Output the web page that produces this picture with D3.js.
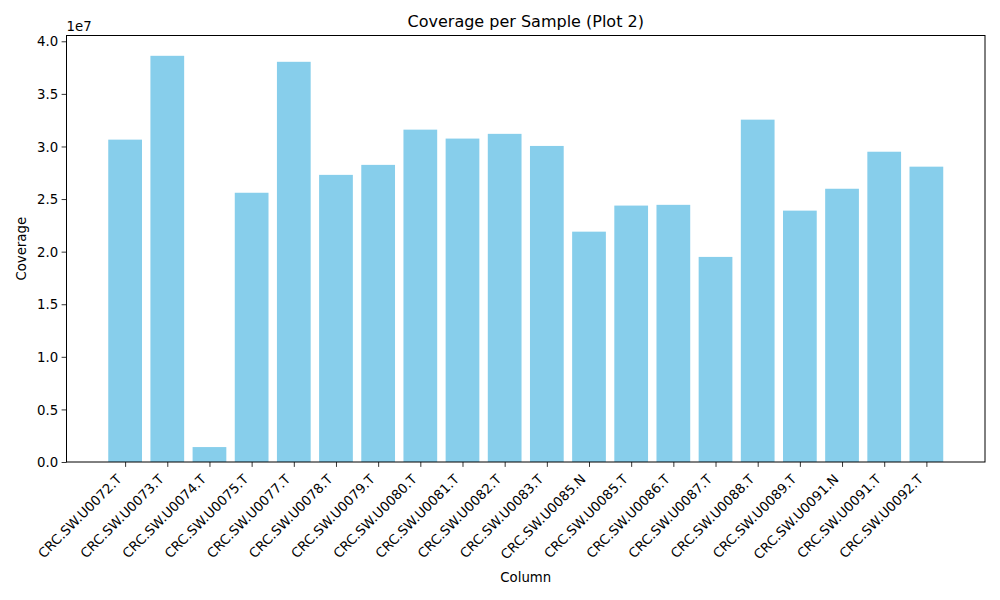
<!DOCTYPE html>
<html>
<head>
<meta charset="utf-8">
<title>Coverage per Sample (Plot 2)</title>
<script src="https://cdn.jsdelivr.net/npm/d3@7"></script>
<style>
  body { margin: 0; background: #fff; }
  text { font-family: "DejaVu Sans", sans-serif; fill: #000; }
</style>
</head>
<body>
<div id="chart"></div>
<script>
// sample names and coverage values
var samples = ["CRC.SW.U0072.T", "CRC.SW.U0073.T", "CRC.SW.U0074.T", "CRC.SW.U0075.T",
  "CRC.SW.U0077.T", "CRC.SW.U0078.T", "CRC.SW.U0079.T", "CRC.SW.U0080.T",
  "CRC.SW.U0081.T", "CRC.SW.U0082.T", "CRC.SW.U0083.T", "CRC.SW.U0085.N",
  "CRC.SW.U0085.T", "CRC.SW.U0086.T", "CRC.SW.U0087.T", "CRC.SW.U0088.T",
  "CRC.SW.U0089.T", "CRC.SW.U0091.N", "CRC.SW.U0091.T", "CRC.SW.U0092.T"];
var coverage = [30.65e6, 38.62e6, 1.42e6, 25.6e6, 38.05e6, 27.3e6, 28.25e6, 31.6e6,
  30.75e6, 31.2e6, 30.05e6, 21.9e6, 24.38e6, 24.45e6, 19.5e6, 32.55e6,
  23.9e6, 25.98e6, 29.5e6, 28.08e6];
var yTicks = [0, 0.5e7, 1.0e7, 1.5e7, 2.0e7, 2.5e7, 3.0e7, 3.5e7, 4.0e7];

var W = 1000, H = 600;
var m = { left: 66.5, right: 15, top: 35.5, bottom: 138 };
var iw = W - m.left - m.right, ih = H - m.top - m.bottom;

var svg = d3.select("#chart").append("svg")
  .attr("width", W).attr("height", H);

var n = samples.length;
var pad = 0.05 * (n - 1 + 0.8);
var x = d3.scaleLinear().domain([-0.4 - pad, n - 1 + 0.4 + pad]).range([0, iw]);
var yMax = d3.max(coverage) * 1.05;
var y = d3.scaleLinear().domain([0, yMax]).range([ih, 0]);

var g = svg.append("g").attr("transform", "translate(" + m.left + "," + m.top + ")");

g.selectAll("rect.bar").data(coverage).enter().append("rect")
  .attr("class", "bar")
  .attr("x", function(d, i) { return x(i - 0.4); })
  .attr("width", function(d, i) { return x(i + 0.4) - x(i - 0.4); })
  .attr("y", function(d) { return y(d); })
  .attr("height", function(d) { return ih - y(d); })
  .attr("fill", "#87ceeb");

// y axis
var yAxis = g.append("g")
  .call(d3.axisLeft(y).tickValues(yTicks).tickSize(4.9).tickPadding(3.5)
    .tickFormat(function(d) { return (d / 1e7).toFixed(1); }));
yAxis.select(".domain").remove();
yAxis.selectAll("text").style("font-size", "13.3px").attr("dy", "0.35em");
yAxis.selectAll("line").attr("stroke", "#000").attr("stroke-width", 0.8);

// x axis
var xAxis = g.append("g").attr("transform", "translate(0," + ih + ")")
  .call(d3.axisBottom(x).tickValues(d3.range(n)).tickSize(4.9)
    .tickFormat(function(i) { return samples[i]; }));
xAxis.select(".domain").remove();
xAxis.selectAll("line").attr("stroke", "#000").attr("stroke-width", 0.8);
xAxis.selectAll("text")
  .style("font-size", "13.3px")
  .attr("text-anchor", "end")
  .attr("dy", "0")
  .attr("y", 0)
  .attr("transform", "translate(-3,18) rotate(-45)");

// frame
g.append("rect").attr("width", iw).attr("height", ih)
  .attr("fill", "none").attr("stroke", "#000").attr("stroke-width", 1);

// offset text
g.append("text").attr("x", 0).attr("y", -5)
  .style("font-size", "13.3px").text("1e7");

// labels
svg.append("text").attr("x", m.left + iw / 2).attr("y", 27)
  .attr("text-anchor", "middle").style("font-size", "16px")
  .text("Coverage per Sample (Plot 2)");
svg.append("text").attr("x", m.left + iw / 2).attr("y", 582)
  .attr("text-anchor", "middle").style("font-size", "13.3px").text("Column");
svg.append("text").attr("transform", "translate(26," + (m.top + ih / 2) + ") rotate(-90)")
  .attr("text-anchor", "middle").style("font-size", "13.3px").text("Coverage");
</script>
</body>
</html>
